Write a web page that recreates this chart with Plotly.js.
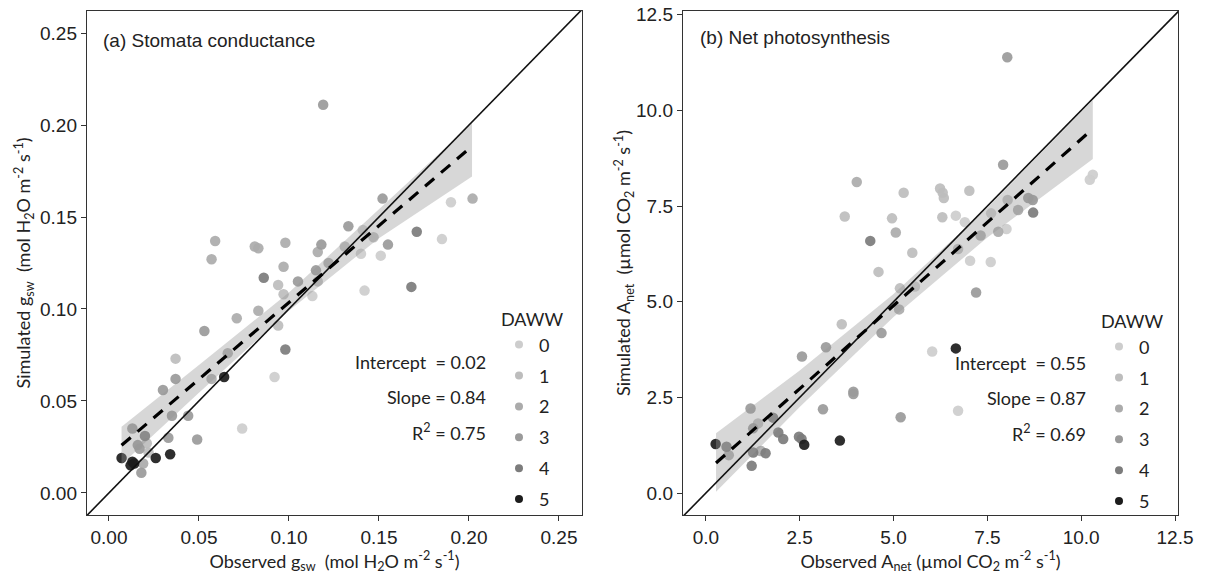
<!DOCTYPE html>
<html>
<head>
<meta charset="utf-8">
<script src="https://cdn.plot.ly/plotly-3.0.1.min.js"></script>
<style>html,body{margin:0;padding:0;background:#fff}#chart{width:1206px;height:580px}</style>
</head>
<body>
<div id="chart"></div>
<script>
// ---------- categories ----------
const dawwLevels = ['0', '1', '2', '3', '4', '5'];
const dawwColors = ['#cdcdcd', '#bdbdbd', '#ababab', '#9a9a9a', '#7c7c7c', '#1c1c1c'];

// ---------- panel (a) stomatal conductance ----------
const gswObs = [0.190,0.185,0.151,0.140,0.142,0.113,0.092,0.074,0.141,
  0.131,0.147,0.116,0.097,0.094,0.037,0.021,0.022,0.094,
  0.202,0.116,0.122,0.097,0.098,0.081,0.083,0.059,0.057,0.083,0.071,0.057,0.066,0.019,
  0.119,0.152,0.155,0.133,0.118,0.115,0.105,0.053,0.030,0.037,0.035,0.044,0.049,0.013,0.033,0.016,0.017,0.018,
  0.171,0.086,0.168,0.098,0.020,
  0.064,0.007,0.013,0.012,0.014,0.026,0.034];
const gswSim = [0.158,0.138,0.129,0.130,0.110,0.107,0.063,0.035,0.143,
  0.134,0.139,0.115,0.108,0.113,0.073,0.027,0.022,0.091,
  0.160,0.131,0.125,0.123,0.136,0.134,0.133,0.137,0.127,0.099,0.095,0.062,0.076,0.016,
  0.211,0.160,0.135,0.145,0.135,0.121,0.115,0.088,0.056,0.062,0.042,0.042,0.029,0.035,0.030,0.026,0.024,0.011,
  0.142,0.117,0.112,0.078,0.031,
  0.063,0.019,0.017,0.015,0.016,0.019,0.021];
const gswDaww = [0,0,0,0,0,0,0,0,0,
  1,1,1,1,1,1,1,1,1,
  2,2,2,2,2,2,2,2,2,2,2,2,2,2,
  3,3,3,3,3,3,3,3,3,3,3,3,3,3,3,3,3,3,
  4,4,4,4,4,
  5,5,5,5,5,5,5];
const gswFitX = [0.007, 0.2017];
const gswFitY = [0.0259, 0.1885];
const gswBandX = [0.007, 0.05, 0.10, 0.15, 0.2017];
const gswBandLo = [0.0155, 0.0545, 0.0990, 0.1385, 0.1720];
const gswBandHi = [0.0360, 0.0695, 0.1090, 0.1545, 0.2010];
const gswStats = ['Intercept  = 0.02', 'Slope = 0.84', 'R<sup>2</sup> = 0.75'];

// ---------- panel (b) net photosynthesis ----------
const anetObs = [10.31,10.23,6.66,6.90,8.01,7.04,7.59,6.03,6.72,7.60,5.57,
  5.27,6.24,6.31,6.34,7.02,3.70,4.96,6.30,8.04,5.50,6.72,4.60,5.17,3.62,1.39,
  4.02,8.32,5.06,7.32,7.79,5.15,1.46,0.61,
  8.03,7.92,8.59,8.71,7.20,4.68,3.20,2.56,3.93,3.93,5.19,3.12,1.19,1.26,
  8.72,4.38,1.79,1.93,2.06,2.48,2.55,0.55,1.26,1.59,1.22,
  6.66,3.57,2.62,0.26];
const anetSim = [8.32,8.19,7.25,7.08,6.90,6.07,6.04,3.70,2.15,7.31,5.40,
  7.85,7.96,7.85,7.71,7.90,7.23,7.18,7.21,7.66,6.28,6.38,5.78,5.35,4.41,1.82,
  8.13,7.40,6.81,6.73,6.83,4.80,1.10,0.99,
  11.39,8.58,7.71,7.66,5.24,4.18,3.81,3.57,2.65,2.59,1.98,2.19,2.21,1.69,
  7.33,6.59,1.97,1.58,1.41,1.47,1.41,1.21,1.06,1.04,0.71,
  3.78,1.37,1.26,1.28];
const anetDaww = [0,0,0,0,0,0,0,0,0,0,0,
  1,1,1,1,1,1,1,1,1,1,1,1,1,1,1,
  2,2,2,2,2,2,2,2,
  3,3,3,3,3,3,3,3,3,3,3,3,3,3,
  4,4,4,4,4,4,4,4,4,4,4,
  5,5,5,5];
const anetFitX = [0.27, 10.31];
const anetFitY = [0.785, 9.52];
const anetBandX = [0.27, 2.5, 5.0, 7.5, 10.31];
const anetBandLo = [0.03, 2.25, 4.60, 6.68, 8.73];
const anetBandHi = [1.56, 3.20, 5.20, 7.46, 10.27];
const anetStats = ['Intercept  = 0.55', 'Slope = 0.87', 'R<sup>2</sup> = 0.69'];

// axis ranges / 1:1 line extents
const gswRange = [-0.0122, 0.2628];
const gswRangeY = [-0.012, 0.262];
const anetRange = [-0.61, 12.58];
const anetRangeY = [-0.575, 12.6];

// ---------- geometry helpers (pixel -> paper) ----------
const W = 1206, H = 580, ML = 87, MR = 28, MT = 11, MB = 65;
const PW = W - ML - MR, PH = H - MT - MB;
const px2x = p => (p - ML) / PW;
const px2y = p => (H - MB - p) / PH;

const humanist = 'Lato, "Open Sans", sans-serif';
const arial = '"Liberation Sans", Arial, sans-serif';
const txtCol = '#222';

const traces = [];
function addPanel(obs, sim, daww, bandX, bandLo, bandHi, fitX, fitY, oneRange, xa, ya, legendId) {
  dawwLevels.forEach((lvl, i) => {
    const xs = [], ys = [];
    daww.forEach((d, k) => { if (d === i) { xs.push(obs[k]); ys.push(sim[k]); } });
    traces.push({
      type: 'scatter', mode: 'markers', x: xs, y: ys, xaxis: xa, yaxis: ya,
      marker: {color: dawwColors[i], size: 10.5, opacity: 0.92, line: {width: 0}},
      showlegend: false, hoverinfo: 'x+y'
    });
  });
  traces.push({
    type: 'scatter', mode: 'lines', x: bandX.concat(bandX.slice().reverse()),
    y: bandHi.concat(bandLo.slice().reverse()), xaxis: xa, yaxis: ya,
    fill: 'toself', fillcolor: 'rgba(150,150,150,0.38)', line: {width: 0},
    showlegend: false, hoverinfo: 'skip'
  });
  traces.push({
    type: 'scatter', mode: 'lines', x: oneRange, y: oneRange, xaxis: xa, yaxis: ya,
    line: {color: '#111', width: 1.6}, showlegend: false, hoverinfo: 'skip'
  });
  traces.push({
    type: 'scatter', mode: 'lines', x: fitX, y: fitY, xaxis: xa, yaxis: ya,
    line: {color: '#000', width: 3.2, dash: '12px,9px'}, showlegend: false, hoverinfo: 'skip'
  });
  dawwLevels.forEach((lvl, i) => {
    traces.push({
      type: 'scatter', mode: 'markers', x: [null], y: [null], xaxis: xa, yaxis: ya,
      name: lvl, legend: legendId, legendgroup: 'g' + lvl,
      marker: {color: dawwColors[i], size: 8}, showlegend: true
    });
  });
}
addPanel(gswObs, gswSim, gswDaww, gswBandX, gswBandLo, gswBandHi, gswFitX, gswFitY, [-0.05, 0.3], 'x', 'y', 'legend');
addPanel(anetObs, anetSim, anetDaww, anetBandX, anetBandLo, anetBandHi, anetFitX, anetFitY, [-1, 13], 'x2', 'y2', 'legend2');

function axisBase() {
  return {
    showgrid: false, zeroline: false, showline: true, mirror: true,
    linecolor: '#333', linewidth: 1.2, ticks: 'outside', ticklen: 5,
    tickcolor: '#333', tickwidth: 1,
    tickfont: {family: arial, size: 19, color: txtCol}, automargin: false
  };
}
const xA = Object.assign(axisBase(), {
  domain: [0, 495 / PW], range: gswRange, tick0: 0, dtick: 0.05, tickformat: '.2f', anchor: 'y',
  title: {text: 'Observed g<sub>sw</sub>  (mol H<sub>2</sub>O m<sup>-2</sup> s<sup>-1</sup>)',
    font: {family: humanist, size: 18, color: txtCol}, standoff: 6}
});
const yA = Object.assign(axisBase(), {
  domain: [0, 1], range: gswRangeY, tick0: 0, dtick: 0.05, tickformat: '.2f', anchor: 'x',
  title: {text: 'Simulated g<sub>sw</sub>  (mol H<sub>2</sub>O m<sup>-2</sup> s<sup>-1</sup>)',
    font: {family: humanist, size: 18, color: txtCol}, standoff: 4}
});
const xB = Object.assign(axisBase(), {
  domain: [(683 - ML) / PW, 1], range: anetRange, tick0: 0, dtick: 2.5, tickformat: '.1f', anchor: 'y2',
  title: {text: 'Observed A<sub>net</sub> (µmol CO<sub>2</sub> m<sup>-2</sup> s<sup>-1</sup>)',
    font: {family: humanist, size: 18, color: txtCol}, standoff: 6}
});
const yB = Object.assign(axisBase(), {
  domain: [0, 1], range: anetRangeY, tick0: 0, dtick: 2.5, tickformat: '.1f', anchor: 'x2',
  title: {text: 'Simulated A<sub>net</sub>  (µmol CO<sub>2</sub> m<sup>-2</sup> s<sup>-1</sup>)',
    font: {family: humanist, size: 18, color: txtCol}, standoff: 0}
});

function legendCfg(leftPx, topPx) {
  return {
    x: px2x(leftPx), xanchor: 'left', y: px2y(topPx), yanchor: 'top',
    bgcolor: 'rgba(0,0,0,0)', borderwidth: 0,
    font: {family: humanist, size: 18, color: txtCol},
    title: {text: 'DAWW', font: {family: humanist, size: 18, color: txtCol}},
    traceorder: 'grouped', tracegroupgap: 4.5, itemclick: false, itemdoubleclick: false
  };
}

const annotations = [
  {text: '(a) Stomata conductance', x: px2x(101), y: px2y(40), xanchor: 'left', yanchor: 'middle'},
  {text: '(b) Net photosynthesis', x: px2x(698), y: px2y(37), xanchor: 'left', yanchor: 'middle'}
].map(a => Object.assign(a, {xref: 'paper', yref: 'paper', showarrow: false,
  font: {family: arial, size: 19, color: txtCol}}));
const statY = [362, 397, 432];
gswStats.forEach((t, i) => annotations.push({text: t, x: px2x(488), y: px2y(statY[i]),
  xref: 'paper', yref: 'paper', xanchor: 'right', yanchor: 'middle', showarrow: false,
  font: {family: humanist, size: 18, color: txtCol}}));
anetStats.forEach((t, i) => annotations.push({text: t, x: px2x(1088), y: px2y(statY[i] + 1),
  xref: 'paper', yref: 'paper', xanchor: 'right', yanchor: 'middle', showarrow: false,
  font: {family: humanist, size: 18, color: txtCol}}));

const layout = {
  width: W, height: H,
  margin: {l: ML, r: MR, t: MT, b: MB, pad: 0},
  paper_bgcolor: '#fff', plot_bgcolor: '#fff',
  xaxis: xA, yaxis: yA, xaxis2: xB, yaxis2: yB,
  legend: legendCfg(499, 303), legend2: legendCfg(1099, 305),
  annotations: annotations,
  showlegend: true
};

Plotly.newPlot('chart', traces, layout, {displayModeBar: false, staticPlot: true});
</script>
</body>
</html>
